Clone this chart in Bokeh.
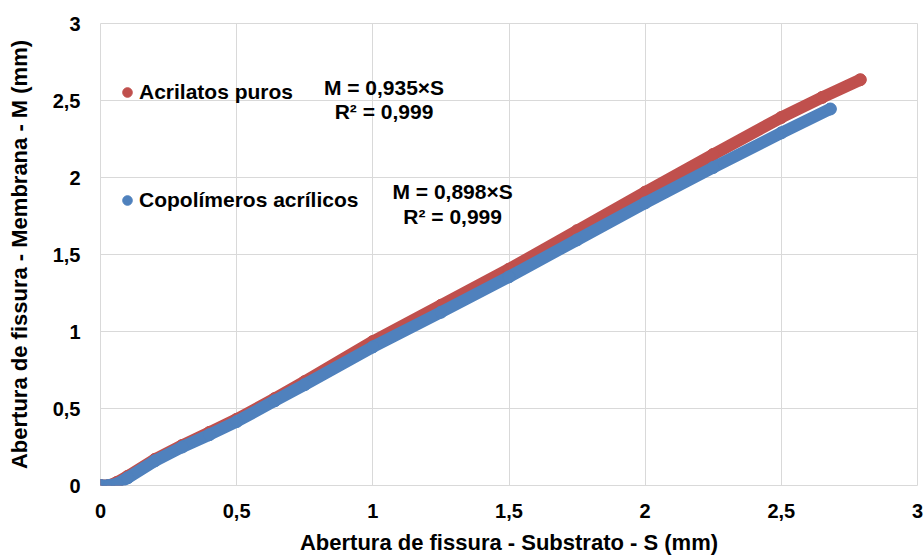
from bokeh.plotting import figure
from bokeh.models import Range1d, FixedTicker, Label, Legend, LegendItem
from bokeh.embed import file_html
from bokeh.resources import INLINE

# ---- data ----
tick_values = [0, 0.5, 1, 1.5, 2, 2.5, 3]
tick_labels = ["0", "0,5", "1", "1,5", "2", "2,5", "3"]

series_names = ["Acrilatos puros", "Copolímeros acrílicos"]

# Acrilatos puros: S (substrate opening) vs M (membrane opening), mm
acr_S = [0.0, 0.03, 0.06, 0.10, 0.20, 0.30, 0.40, 0.50, 0.64, 0.75, 1.00,
         1.25, 1.50, 1.75, 2.00, 2.25, 2.50, 2.65, 2.79]
acr_M = [0.0, 0.0, 0.02, 0.06, 0.17, 0.26, 0.345, 0.43, 0.565, 0.675, 0.935,
         1.17, 1.405, 1.655, 1.905, 2.15, 2.39, 2.52, 2.635]

# Copolímeros acrílicos
cop_S = [0.0, 0.03, 0.06, 0.10, 0.20, 0.30, 0.40, 0.50, 0.64, 0.75, 1.00,
         1.25, 1.50, 1.75, 2.00, 2.25, 2.50, 2.68]
cop_M = [0.0, 0.0, 0.01, 0.05, 0.16, 0.25, 0.33, 0.415, 0.55, 0.655, 0.90,
         1.125, 1.355, 1.595, 1.835, 2.065, 2.29, 2.445]

eq_acr = ["M = 0,935×S", "R² = 0,999"]
eq_cop = ["M = 0,898×S", "R² = 0,999"]

RED = "#c0504d"
BLUE = "#4f81bd"
GRID = "#d9d9d9"
FONT = "Liberation Sans"

p = figure(width=924, height=557,
           x_range=Range1d(0, 3), y_range=Range1d(0, 3),
           output_backend="svg", toolbar_location=None,
           min_border_left=100, min_border_right=7,
           min_border_top=23, min_border_bottom=69)

p.background_fill_color = "white"
p.border_fill_color = "white"
p.outline_line_color = GRID
p.outline_line_width = 1

for ax in (p.xaxis, p.yaxis):
    ax.ticker = FixedTicker(ticks=tick_values)
    ax.major_label_overrides = dict(zip(tick_values, tick_labels))
    ax.axis_line_color = None
    ax.major_tick_line_color = None
    ax.minor_tick_line_color = None
    ax.major_tick_in = 0
    ax.major_tick_out = 0
    ax.major_label_text_font = FONT
    ax.major_label_text_font_size = "20px"
    ax.major_label_text_font_style = "bold"
    ax.major_label_text_color = "#000000"
    ax.axis_label_text_font = FONT
    ax.axis_label_text_font_size = "22px"
    ax.axis_label_text_font_style = "bold"
    ax.axis_label_text_color = "#000000"

p.xaxis.axis_label = "Abertura de fissura - Substrato - S (mm)"
p.yaxis.axis_label = "Abertura de fissura - Membrana - M (mm)"
p.xaxis.major_label_standoff = 18
p.xaxis.axis_label_standoff = 9
p.yaxis.major_label_standoff = 20
p.yaxis.axis_label_standoff = 18

for g in (p.xgrid, p.ygrid):
    g.ticker = FixedTicker(ticks=tick_values)
    g.grid_line_color = GRID
    g.grid_line_width = 1

# series (red first, blue drawn on top)
p.line(acr_S, acr_M, line_width=12, line_color=RED, line_cap="round", line_join="round")
r_acr = p.scatter(acr_S, acr_M, size=12, fill_color=RED, line_color=RED)
p.line(cop_S, cop_M, line_width=12, line_color=BLUE, line_cap="round", line_join="round")
r_cop = p.scatter(cop_S, cop_M, size=12, fill_color=BLUE, line_color=BLUE)

legend = Legend(items=[LegendItem(label=series_names[0], renderers=[r_acr]),
                       LegendItem(label=series_names[1], renderers=[r_cop])],
                location=(15, 272), orientation="vertical",
                spacing=82, padding=0, margin=0,
                glyph_width=24, glyph_height=26, label_height=26,
                label_standoff=0,
                label_text_font=FONT, label_text_font_size="21px",
                label_text_font_style="bold", label_text_color="#000000",
                border_line_color=None, background_fill_alpha=0)
p.add_layout(legend)

def eq_label(x, y, text):
    return Label(x=x, y=y, text=text, text_align="center", text_baseline="middle",
                 text_font=FONT, text_font_size="21px", text_font_style="bold",
                 text_color="#000000")

p.add_layout(eq_label(1.041, 2.587, eq_acr[0]))
p.add_layout(eq_label(1.041, 2.426, eq_acr[1]))
p.add_layout(eq_label(1.293, 1.910, eq_cop[0]))
p.add_layout(eq_label(1.293, 1.748, eq_cop[1]))

open("out.html", "w").write(file_html(p, INLINE))
